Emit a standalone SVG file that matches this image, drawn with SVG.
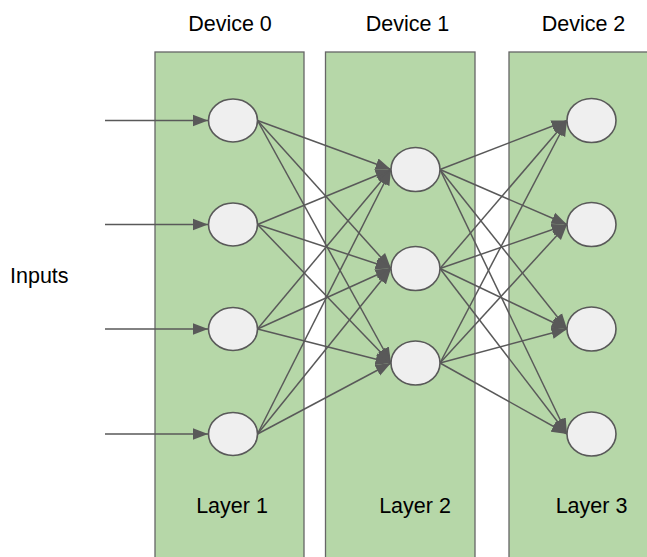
<svg xmlns="http://www.w3.org/2000/svg" width="647" height="557" viewBox="0 0 647 557">
<style>
.panel{fill:#b6d7a8;stroke:#666666;stroke-width:1.3}
.node{fill:#efefef;stroke:#595959;stroke-width:1.6}
.edge{stroke:#595959;stroke-width:1.5;fill:none;marker-end:url(#ah)}
.t{font-family:"Liberation Sans",Arial,sans-serif;font-size:21.5px;fill:#000}
</style>
<defs>
<marker id="ah" markerUnits="userSpaceOnUse" markerWidth="17" markerHeight="13" refX="15.5" refY="6" orient="auto" viewBox="0 0 17 12">
<path d="M0,0 L15.5,6 L0,12 Z" fill="#595959"/>
</marker>
</defs>
<rect width="647" height="557" fill="#ffffff"/>
<g id="device0"><rect class="panel" x="155" y="52" width="149" height="520"/><text class="t" x="230" y="31" text-anchor="middle">Device 0</text><text class="t" x="232" y="513" text-anchor="middle">Layer 1</text></g>
<g id="device1"><rect class="panel" x="325.5" y="52" width="149.5" height="520"/><text class="t" x="407.5" y="31" text-anchor="middle">Device 1</text><text class="t" x="415" y="513" text-anchor="middle">Layer 2</text></g>
<g id="device2"><rect class="panel" x="509" y="52" width="160" height="520"/><text class="t" x="583.5" y="31" text-anchor="middle">Device 2</text><text class="t" x="591.5" y="513" text-anchor="middle">Layer 3</text></g>
<g id="inputs"><text class="t" x="10" y="283">Inputs</text></g>
<g id="connectors">
<line class="edge" x1="105" y1="120.5" x2="208" y2="120.5"/>
<line class="edge" x1="105" y1="224.5" x2="208" y2="224.5"/>
<line class="edge" x1="105" y1="329" x2="208" y2="329"/>
<line class="edge" x1="105" y1="434" x2="208" y2="434"/>
<line class="edge" x1="257.5" y1="120.5" x2="391" y2="169.5"/>
<line class="edge" x1="257.5" y1="120.5" x2="391" y2="268.5"/>
<line class="edge" x1="257.5" y1="120.5" x2="391" y2="363"/>
<line class="edge" x1="257.5" y1="224.5" x2="391" y2="169.5"/>
<line class="edge" x1="257.5" y1="224.5" x2="391" y2="268.5"/>
<line class="edge" x1="257.5" y1="224.5" x2="391" y2="363"/>
<line class="edge" x1="257.5" y1="329" x2="391" y2="169.5"/>
<line class="edge" x1="257.5" y1="329" x2="391" y2="268.5"/>
<line class="edge" x1="257.5" y1="329" x2="391" y2="363"/>
<line class="edge" x1="257.5" y1="434" x2="391" y2="169.5"/>
<line class="edge" x1="257.5" y1="434" x2="391" y2="268.5"/>
<line class="edge" x1="257.5" y1="434" x2="391" y2="363"/>
<line class="edge" x1="440" y1="169.5" x2="567" y2="120.5"/>
<line class="edge" x1="440" y1="169.5" x2="567" y2="224.5"/>
<line class="edge" x1="440" y1="169.5" x2="567" y2="329"/>
<line class="edge" x1="440" y1="169.5" x2="567" y2="434"/>
<line class="edge" x1="440" y1="268.5" x2="567" y2="120.5"/>
<line class="edge" x1="440" y1="268.5" x2="567" y2="224.5"/>
<line class="edge" x1="440" y1="268.5" x2="567" y2="329"/>
<line class="edge" x1="440" y1="268.5" x2="567" y2="434"/>
<line class="edge" x1="440" y1="363" x2="567" y2="120.5"/>
<line class="edge" x1="440" y1="363" x2="567" y2="224.5"/>
<line class="edge" x1="440" y1="363" x2="567" y2="329"/>
<line class="edge" x1="440" y1="363" x2="567" y2="434"/>
</g>
<g id="l1n1"><ellipse class="node" cx="233" cy="120.5" rx="24.5" ry="21.5"/></g>
<g id="l1n2"><ellipse class="node" cx="233" cy="224.5" rx="24.5" ry="21.5"/></g>
<g id="l1n3"><ellipse class="node" cx="233" cy="329" rx="24.5" ry="21.5"/></g>
<g id="l1n4"><ellipse class="node" cx="233" cy="434" rx="24.5" ry="21.5"/></g>
<g id="l2n1"><ellipse class="node" cx="415.5" cy="169.5" rx="24.5" ry="22"/></g>
<g id="l2n2"><ellipse class="node" cx="415.5" cy="268.5" rx="24.5" ry="22"/></g>
<g id="l2n3"><ellipse class="node" cx="415.5" cy="363" rx="24.5" ry="22"/></g>
<g id="l3n1"><ellipse class="node" cx="591.5" cy="120.5" rx="24.5" ry="22"/></g>
<g id="l3n2"><ellipse class="node" cx="591.5" cy="224.5" rx="24.5" ry="22"/></g>
<g id="l3n3"><ellipse class="node" cx="591.5" cy="329" rx="24.5" ry="22"/></g>
<g id="l3n4"><ellipse class="node" cx="591.5" cy="434" rx="24.5" ry="22"/></g>
</svg>
